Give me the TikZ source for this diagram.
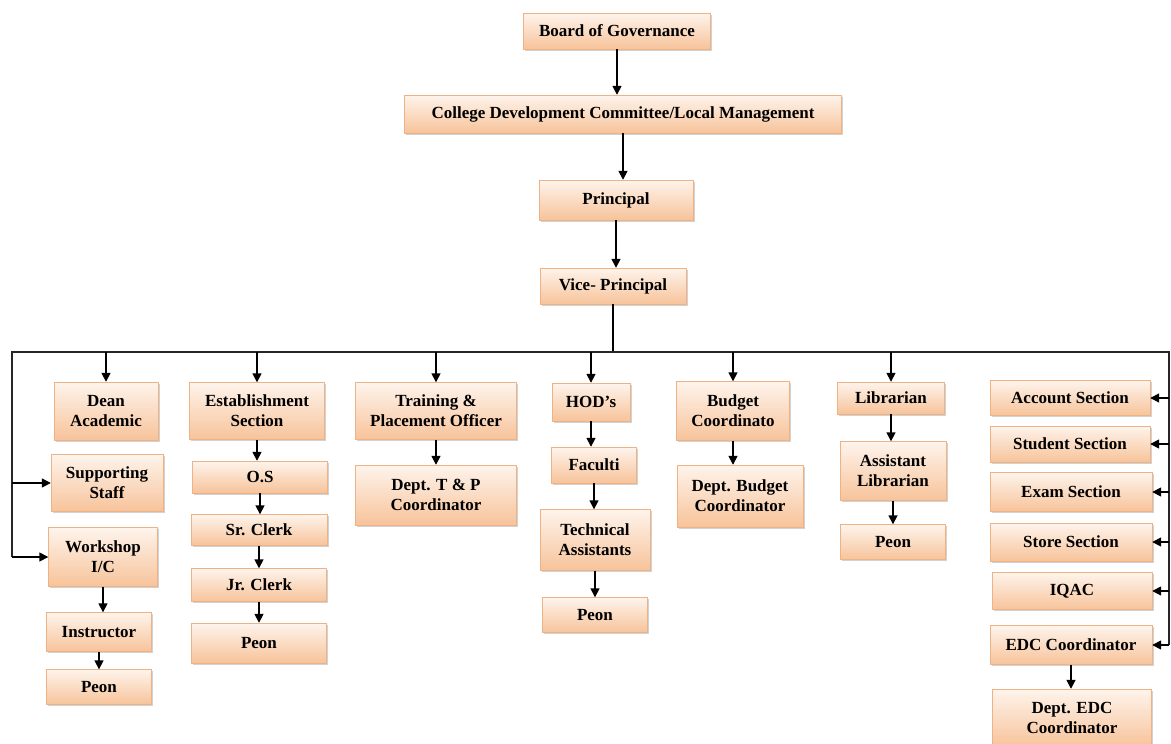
\documentclass[tikz,border=0pt]{standalone}
\usepackage{fontspec}
\setmainfont{Liberation Serif}
\usetikzlibrary{arrows.meta, shadows}
\definecolor{boxtop}{HTML}{FEF4EC}
\definecolor{boxbot}{HTML}{F7C39A}
\definecolor{boxline}{HTML}{EFB285}
\tikzset{
    orgbox/.style={
        rectangle,
        draw=boxline, % 边框颜色
        top color=boxtop, % 上部浅色
        bottom color=boxbot, % 下部橙色
        drop shadow={shadow xshift=1.5pt, shadow yshift=-1.5pt, opacity=0.35},
        align=center,
        inner sep=0,
        font=\bfseries\fontsize{17}{20}\selectfont
    },
    link/.style={
        -{Triangle[length=9pt,width=9pt]},
        line width=1.6pt
    }
}

\begin{document}
\begin{tikzpicture}[x=1pt, y=-1pt]
            \useasboundingbox[fill=white] (0,0) rectangle (1171,744);
            % 上层
            \node[orgbox, minimum width=187, minimum height=36] (gov) at (617,31) {Board of Governance};
            \node[orgbox, minimum width=437, minimum height=38] (cdc) at (623,114) {College Development Committee/Local Management};
            \node[orgbox, minimum width=154, minimum height=40] (prin) at (616,200) {Principal};
            \node[orgbox, minimum width=146, minimum height=36] (vice) at (613,286) {Vice- Principal};
            \coordinate (busL) at (12,352);
            \coordinate (busR) at (1169,352);
            % 左列
            \node[orgbox, minimum width=104, minimum height=58] (dean) at (106,411) {Dean\\Academic};
            \node[orgbox, minimum width=112, minimum height=57] (sup) at (107,483) {Supporting\\Staff};
            \node[orgbox, minimum width=109, minimum height=59] (work) at (103,557) {Workshop\\I/C};
            \node[orgbox, minimum width=105, minimum height=39] (inst) at (99,632) {Instructor};
            \node[orgbox, minimum width=105, minimum height=35] (peonA) at (99,687) {Peon};
            % 办公室
            \node[orgbox, minimum width=135, minimum height=57] (est) at (257,411) {Establishment\\Section};
            \node[orgbox, minimum width=135, minimum height=32] (os) at (260,477) {O.S};
            \node[orgbox, minimum width=136, minimum height=31] (sr) at (259,530) {Sr. Clerk};
            \node[orgbox, minimum width=135, minimum height=33] (jr) at (259,585) {Jr. Clerk};
            \node[orgbox, minimum width=135, minimum height=40] (peonB) at (259,643) {Peon};
            % 培训与就业
            \node[orgbox, minimum width=161, minimum height=57] (tpo) at (436,411) {Training \&\\Placement Officer};
            \node[orgbox, minimum width=161, minimum height=60] (tpc) at (436,495) {Dept. T \& P\\Coordinator};
            % 系主任
            \node[orgbox, minimum width=78, minimum height=38] (hod) at (591,402) {HOD’s};
            \node[orgbox, minimum width=85, minimum height=36] (fac) at (594,465) {Faculti};
            \node[orgbox, minimum width=110, minimum height=61] (tech) at (595,540) {Technical\\Assistants};
            \node[orgbox, minimum width=105, minimum height=35] (peonC) at (595,615) {Peon};
            % 预算
            \node[orgbox, minimum width=113, minimum height=59] (bud) at (733,411) {Budget\\Coordinato};
            \node[orgbox, minimum width=126, minimum height=62] (dbud) at (740,496) {Dept. Budget\\Coordinator};
            % 图书馆
            \node[orgbox, minimum width=107, minimum height=32] (lib) at (891,398) {Librarian};
            \node[orgbox, minimum width=106, minimum height=59] (alib) at (893,471) {Assistant\\Librarian};
            \node[orgbox, minimum width=105, minimum height=35] (peonD) at (893,542) {Peon};
            % 右列
            \node[orgbox, minimum width=160, minimum height=35] (acc) at (1070,398) {Account Section};
            \node[orgbox, minimum width=160, minimum height=36] (stu) at (1070,444) {Student Section};
            \node[orgbox, minimum width=162, minimum height=39] (exam) at (1071,492) {Exam Section};
            \node[orgbox, minimum width=162, minimum height=38] (store) at (1071,542) {Store Section};
            \node[orgbox, minimum width=160, minimum height=37] (iqac) at (1072,591) {IQAC};
            \node[orgbox, minimum width=162, minimum height=39] (edc) at (1071,645) {EDC Coordinator};
            \node[orgbox, minimum width=159, minimum height=58] (dedc) at (1072,718) {Dept. EDC\\Coordinator};
            % 连线
            \foreach \a/\b in {gov/cdc, cdc/prin, prin/vice, work/inst, inst/peonA,
                               est/os, os/sr, sr/jr, jr/peonB, tpo/tpc,
                               hod/fac, fac/tech, tech/peonC, bud/dbud,
                               lib/alib, alib/peonD, edc/dedc}
                \draw[link] (\a.south) -- (\a.south |- \b.north);
            \draw[line width=1.6pt] (vice.south) -- (vice.south |- busL);
            \draw[line width=1.2pt, black!85] (busL |- work.west) -- (busL) -- (busR) -- (busR |- edc.east);
            \foreach \n in {dean, est, tpo, hod, bud, lib}
                \draw[link] (\n.north |- busL) -- (\n.north);
            \foreach \n in {sup, work}
                \draw[link] (busL |- \n.west) -- (\n.west);
            \foreach \n in {acc, stu, exam, store, iqac, edc}
                \draw[link] (busR |- \n.east) -- (\n.east);
            \end{tikzpicture}
\end{document}
